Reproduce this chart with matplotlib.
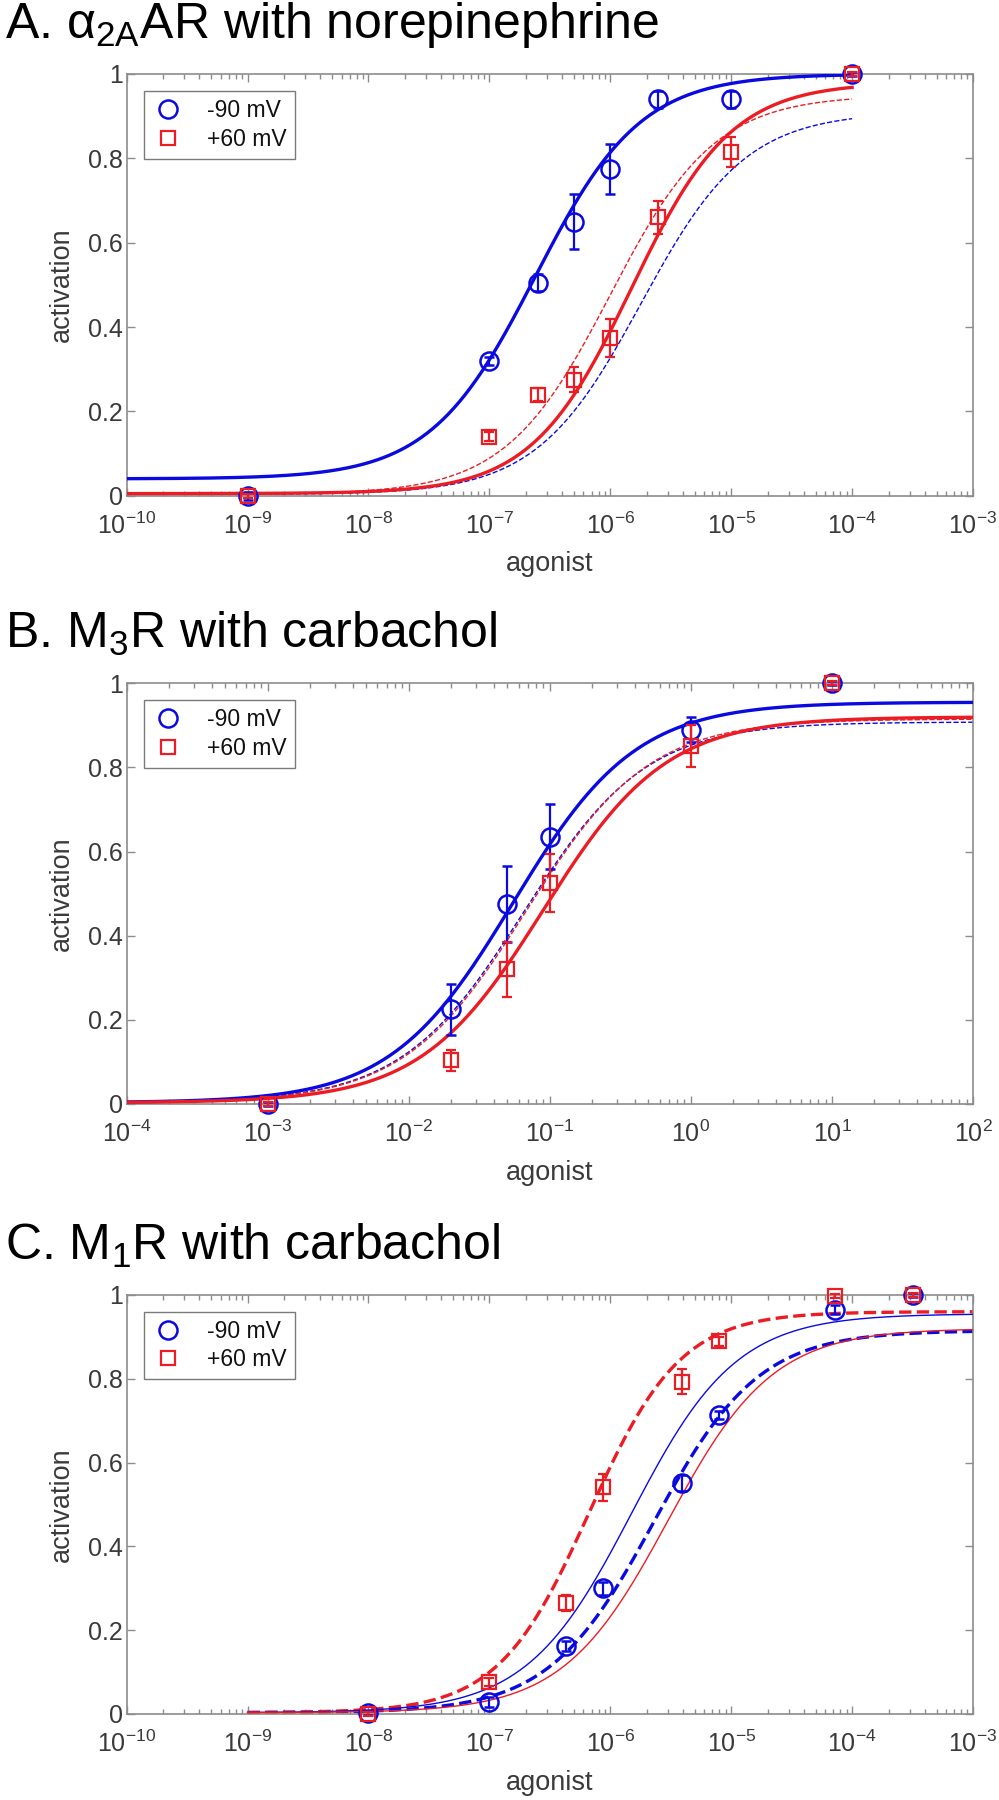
import numpy as np
import matplotlib
matplotlib.use("Agg")
import matplotlib.pyplot as plt
from matplotlib.lines import Line2D
from matplotlib.ticker import LogLocator, FuncFormatter, NullFormatter

plt.rcParams['font.family'] = ['Liberation Sans', 'DejaVu Sans']
plt.rcParams['mathtext.fontset'] = 'custom'
plt.rcParams['mathtext.rm'] = 'Liberation Sans'
plt.rcParams['mathtext.it'] = 'Liberation Sans:italic'
plt.rcParams['mathtext.bf'] = 'Liberation Sans:bold'

BLUE = '#0a0ae0'
RED = '#ec1c24'
GRAY = '#8c8c8c'
TXT = '#3a3a3a'

titles = ['A. α$_{\\mathrm{2A}}$AR with norepinephrine',
          'B. M$_{\\mathrm{3}}$R with carbachol',
          'C. M$_{\\mathrm{1}}$R with carbachol']
legend_labels = ['-90 mV', '+60 mV']

# ---- panel A: alpha2A AR, norepinephrine ----
A_x = [1e-9, 1e-7, 2.5e-7, 5e-7, 1e-6, 2.5e-6, 1e-5, 1e-4]
A_neg90 = [0.0, 0.32, 0.505, 0.65, 0.775, 0.94, 0.94, 1.0]
A_neg90_err = [0.01, 0.01, 0.02, 0.065, 0.06, 0.02, 0.02, 0.005]
A_pos60 = [0.0, 0.14, 0.24, 0.275, 0.375, 0.66, 0.815, 1.0]
A_pos60_err = [0.005, 0.01, 0.015, 0.03, 0.045, 0.04, 0.035, 0.005]
A_xlim = (1e-10, 1e-3)
A_curve_range = (1e-10, 1e-4)
# fitted curves: bottom, top, EC50, hill
A_fit_blue_solid = [0.04, 1.0, 2.4e-7, 1.0]
A_fit_red_solid = [0.005, 0.98, 1.5e-6, 1.05]
A_fit_blue_dash = [0.003, 0.91, 1.8e-6, 1.0]
A_fit_red_dash = [0.003, 0.95, 1.0e-6, 1.0]

# ---- panel B: M3R, carbachol ----
B_x = [1e-3, 0.02, 0.05, 0.1, 1.0, 10.0]
B_neg90 = [0.0, 0.225, 0.475, 0.635, 0.89, 1.0]
B_neg90_err = [0.005, 0.06, 0.09, 0.077, 0.03, 0.005]
B_pos60 = [0.0, 0.104, 0.32, 0.525, 0.852, 1.0]
B_pos60_err = [0.005, 0.025, 0.065, 0.068, 0.05, 0.005]
B_xlim = (1e-4, 1e2)
B_curve_range = (1e-4, 1e2)
B_fit_blue_solid = [0.003, 0.955, 0.055, 1.0]
B_fit_red_solid = [0.003, 0.92, 0.09, 1.0]
B_fit_blue_dash = [0.003, 0.908, 0.065, 1.0]
B_fit_red_dash = [0.003, 0.915, 0.068, 1.0]

# ---- panel C: M1R, carbachol ----
C_x = [1e-8, 1e-7, 4.3e-7, 8.7e-7, 3.9e-6, 7.9e-6, 7.2e-5, 3.2e-4]
C_neg90 = [0.003, 0.028, 0.162, 0.30, 0.551, 0.714, 0.965, 1.0]
C_neg90_err = [0.005, 0.012, 0.012, 0.015, 0.02, 0.01, 0.01, 0.005]
C_pos60 = [0.0, 0.077, 0.265, 0.541, 0.793, 0.889, 0.997, 1.0]
C_pos60_err = [0.005, 0.01, 0.02, 0.032, 0.03, 0.01, 0.005, 0.005]
C_xlim = (1e-10, 1e-3)
C_curve_range = (1e-9, 1e-3)
C_fit_blue_solid = [0.003, 0.955, 1.5e-6, 1.0]
C_fit_red_solid = [0.003, 0.92, 3.0e-6, 1.0]
C_fit_blue_dash = [0.003, 0.915, 2.3e-6, 1.0]
C_fit_red_dash = [0.003, 0.96, 6.7e-7, 1.15]


def hill(x, p):
    bottom, top, ec50, n = p
    return bottom + (top - bottom) * x**n / (x**n + ec50**n)


def panel(ax, x, neg, neg_err, pos, pos_err, xlim, crange, fits, thick_solid):
    xc = np.logspace(np.log10(crange[0]), np.log10(crange[1]), 400)
    thick, thin = 2.4, 1.0
    lw_solid = thick if thick_solid else thin
    lw_dash = thin if thick_solid else thick
    ax.plot(xc, hill(xc, fits[2]), '--', color=BLUE, lw=lw_dash, zorder=2)
    ax.plot(xc, hill(xc, fits[3]), '--', color=RED, lw=lw_dash, zorder=2)
    ax.plot(xc, hill(xc, fits[0]), '-', color=BLUE, lw=lw_solid, zorder=3)
    ax.plot(xc, hill(xc, fits[1]), '-', color=RED, lw=lw_solid, zorder=3)

    ax.errorbar(x, neg, yerr=neg_err, fmt='o', color=BLUE, mfc='none', mec=BLUE,
                ms=13, mew=1.8, elinewidth=1.6, capsize=3.5, capthick=1.6, zorder=4,
                clip_on=False)
    ax.errorbar(x, pos, yerr=pos_err, fmt='s', color=RED, mfc='none', mec=RED,
                ms=9.5, mew=1.6, elinewidth=1.6, capsize=3.5, capthick=1.6, zorder=5,
                clip_on=False)

    ax.set_xscale('log')
    ax.set_xlim(*xlim)
    ax.set_ylim(0, 1)
    lo, hi = int(round(np.log10(xlim[0]))), int(round(np.log10(xlim[1])))
    ax.set_xticks(10.0 ** np.arange(lo, hi + 1))
    ax.set_yticks([0, 0.2, 0.4, 0.6, 0.8, 1.0])
    ax.yaxis.set_major_formatter(FuncFormatter(lambda v, p: '%g' % v))
    ax.xaxis.set_minor_locator(LogLocator(base=10, subs=np.arange(2, 10), numticks=20))
    ax.xaxis.set_minor_formatter(NullFormatter())
    ax.tick_params(which='both', direction='in', top=True, right=True,
                   colors=GRAY, labelcolor=TXT, labelsize=18)
    ax.tick_params(axis='x', which='major', length=6, width=1, pad=12)
    ax.tick_params(axis='x', which='minor', length=3.5, width=1)
    ax.tick_params(axis='y', length=6, width=1, pad=3)
    for s in ax.spines.values():
        s.set_color(GRAY)
        s.set_linewidth(1.2)
    ax.set_xlabel('agonist', fontsize=19.5, color=TXT, labelpad=9)
    ax.set_ylabel('activation', fontsize=19.5, color=TXT, labelpad=9)

    handles = [Line2D([], [], ls='none', marker='o', ms=13, mfc='none', mec=BLUE, mew=1.8),
               Line2D([], [], ls='none', marker='s', ms=9.5, mfc='none', mec=RED, mew=1.6)]
    leg = ax.legend(handles, legend_labels, loc='upper left', bbox_to_anchor=(0.0204, 0.96),
                    borderaxespad=0, fontsize=16.5, frameon=True, fancybox=False,
                    framealpha=1, edgecolor='#7a7a7a', handlelength=1.4,
                    handletextpad=1.0, borderpad=0.35, labelspacing=0.25)
    leg.get_frame().set_linewidth(1.0)
    for t in leg.get_texts():
        t.set_color('#111111')


fig = plt.figure(figsize=(9.99, 18), dpi=100)
left, width = 0.1268, 0.8472
axA = fig.add_axes([left, 0.7246, width, 0.2343])
axB = fig.add_axes([left, 0.3867, width, 0.2337])
axC = fig.add_axes([left, 0.0478, width, 0.2328])

panel(axA, A_x, A_neg90, A_neg90_err, A_pos60, A_pos60_err, A_xlim, A_curve_range,
      [A_fit_blue_solid, A_fit_red_solid, A_fit_blue_dash, A_fit_red_dash], True)
panel(axB, B_x, B_neg90, B_neg90_err, B_pos60, B_pos60_err, B_xlim, B_curve_range,
      [B_fit_blue_solid, B_fit_red_solid, B_fit_blue_dash, B_fit_red_dash], True)
panel(axC, C_x, C_neg90, C_neg90_err, C_pos60, C_pos60_err, C_xlim, C_curve_range,
      [C_fit_blue_solid, C_fit_red_solid, C_fit_blue_dash, C_fit_red_dash], False)

# panel titles, baselines measured in pixels from top
for txt, base_px in zip(titles, [38, 648, 1260]):
    fig.text(5 / 999, 1 - base_px / 1800, txt, fontsize=36, color='black',
             ha='left', va='baseline')

fig.savefig('out.png', dpi=100)
